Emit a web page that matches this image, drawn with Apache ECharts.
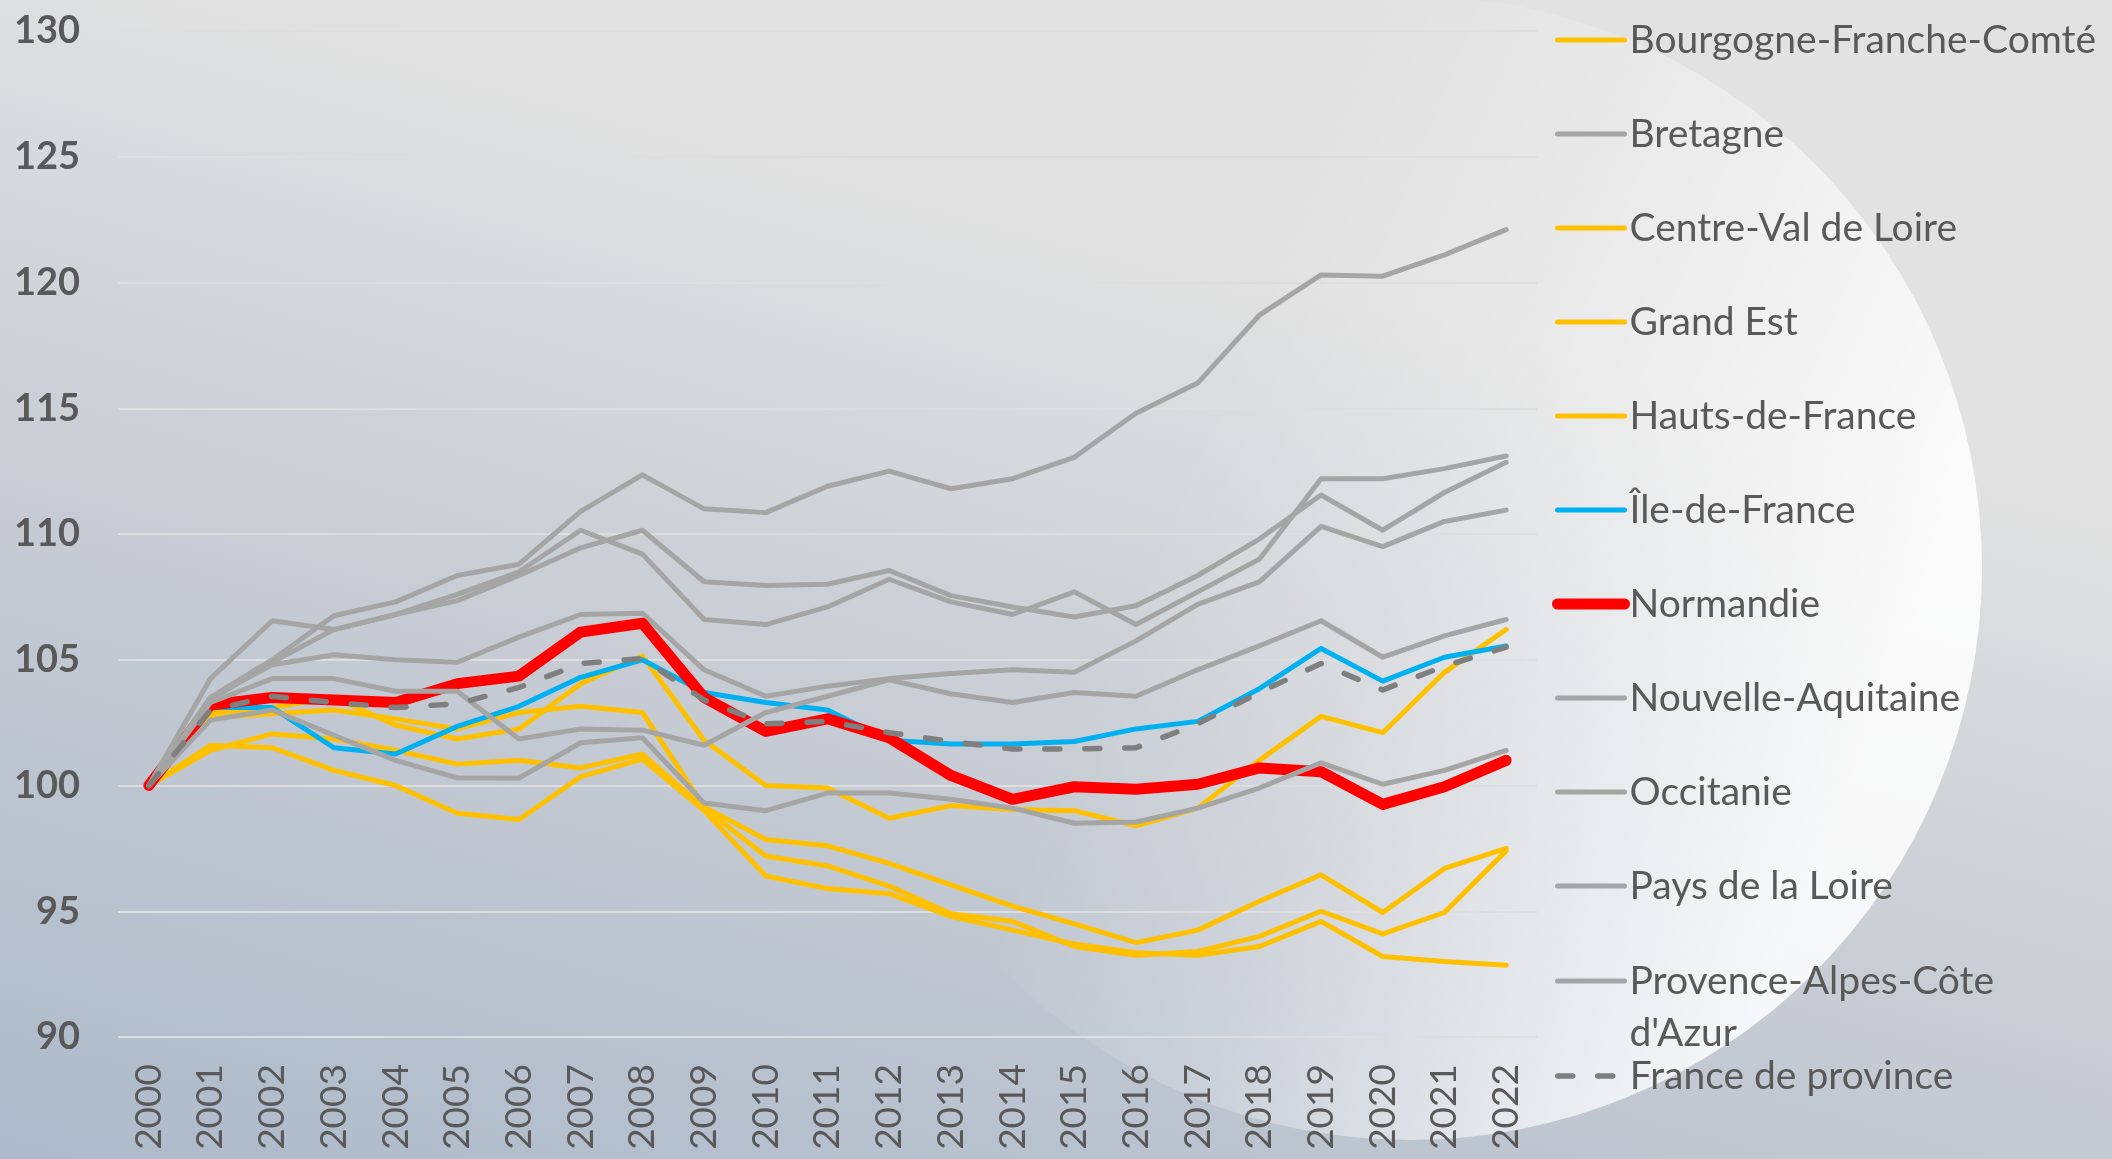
<!DOCTYPE html>
<html>
<head>
<meta charset="utf-8">
<script src="https://cdn.jsdelivr.net/npm/echarts@6/dist/echarts.min.js"></script>
<style>
  html, body { margin: 0; padding: 0; }
  #chart { width: 2112px; height: 1159px; }
</style>
</head>
<body>
<div id="chart"></div>
<script>
const years = ['2000', '2001', '2002', '2003', '2004', '2005', '2006', '2007', '2008', '2009', '2010', '2011',
  '2012', '2013', '2014', '2015', '2016', '2017', '2018', '2019', '2020', '2021', '2022']

const yTicks = [90, 95, 100, 105, 110, 115, 120, 125, 130]

// region not shown in the legend
const auvergneRhoneAlpes = [100, 103.5, 104.8, 105.2, 105.0, 104.9, 105.9, 106.8, 106.85, 104.6, 103.55, 103.95,
  104.25, 104.45, 104.6, 104.5, 105.75, 107.2, 108.1, 110.3, 109.5, 110.5, 110.95]
const bourgogneFC = [100, 102.7, 102.85, 103.0, 102.65, 102.25, 102.9, 103.15, 102.9, 99.15, 97.85, 97.6,
  96.9, 96.05, 95.2, 94.5, 93.75, 94.25, 95.4, 96.45, 94.95, 96.7, 97.5]
const bretagne = [100, 103.4, 104.9, 106.2, 106.8, 107.6, 108.5, 110.15, 109.2, 106.6, 106.4, 107.1,
  108.2, 107.3, 106.8, 107.7, 106.4, 107.7, 109.0, 112.2, 112.2, 112.6, 113.1]
const centreVdL = [100, 102.9, 103.1, 103.5, 102.4, 101.85, 102.25, 104.05, 105.15, 101.8, 100.0, 99.9,
  98.7, 99.2, 99.05, 99.0, 98.4, 99.1, 101.0, 102.75, 102.1, 104.5, 106.2]
const grandEst = [100, 101.6, 101.5, 100.6, 100.0, 98.9, 98.65, 100.35, 101.05, 99.0, 96.4, 95.9,
  95.7, 94.8, 94.25, 93.7, 93.35, 93.25, 93.6, 94.6, 93.2, 93.0, 92.85]
const hautsDeFrance = [100, 101.4, 102.05, 101.85, 101.4, 100.85, 101.0, 100.7, 101.25, 99.1, 97.2, 96.8,
  96.0, 94.9, 94.6, 93.6, 93.25, 93.4, 94.0, 95.0, 94.1, 94.95, 97.4]
const ileDeFrance = [100, 103.1, 103.1, 101.5, 101.25, 102.35, 103.15, 104.3, 105.0, 103.7, 103.3, 103.0,
  101.8, 101.65, 101.65, 101.75, 102.25, 102.55, 103.85, 105.45, 104.15, 105.1, 105.55]
const normandie = [100, 103.2, 103.5, 103.4, 103.3, 104.05, 104.35, 106.1, 106.45, 103.5, 102.15, 102.65,
  101.9, 100.4, 99.45, 99.95, 99.85, 100.05, 100.7, 100.55, 99.25, 99.95, 101.0]
const nouvelleAquitaine = [100, 103.3, 104.25, 104.25, 103.75, 103.75, 101.85, 102.25, 102.2, 101.6, 102.9, 103.55,
  104.2, 103.65, 103.3, 103.7, 103.55, 104.6, 105.55, 106.55, 105.1, 105.95, 106.6]
const occitanie = [100, 103.5, 105.0, 106.75, 107.3, 108.35, 108.8, 110.9, 112.35, 111.0, 110.85, 111.9,
  112.5, 111.8, 112.2, 113.05, 114.8, 116.0, 118.7, 120.3, 120.25, 121.1, 122.1]
const paysDeLaLoire = [100, 104.25, 106.55, 106.2, 106.8, 107.35, 108.35, 109.45, 110.15, 108.1, 107.95, 108.0,
  108.55, 107.55, 107.1, 106.7, 107.15, 108.35, 109.8, 111.55, 110.15, 111.65, 112.85]
const paca = [100, 102.6, 103.0, 102.0, 101.0, 100.3, 100.3, 101.7, 101.9, 99.3, 99.0, 99.7,
  99.7, 99.45, 99.1, 98.5, 98.55, 99.1, 99.9, 100.9, 100.05, 100.6, 101.4]
const franceProvince = [100, 103.0, 103.55, 103.3, 103.1, 103.25, 103.9, 104.85, 105.05, 103.4, 102.45, 102.55,
  102.1, 101.75, 101.45, 101.45, 101.5, 102.45, 103.7, 104.85, 103.8, 104.75, 105.5]

const YELLOW = '#ffc000'
const GRAY = '#a5a5a5'
const TEXT = '#595959'
const FONT = 'Lato, "Noto Sans", sans-serif'

const line = (name, data, color, width, type) => ({
  name,
  type: 'line',
  data,
  symbol: 'none',
  silent: true,
  lineStyle: { color, width: width || 5, type: type || 'solid', cap: 'round', join: 'round' },
  itemStyle: { color },
  emphasis: { disabled: true },
})

const series = [
  line('Auvergne-Rhône-Alpes', auvergneRhoneAlpes, GRAY),
  line('Bourgogne-Franche-Comté', bourgogneFC, YELLOW),
  line('Bretagne', bretagne, GRAY),
  line('Centre-Val de Loire', centreVdL, YELLOW),
  line('Grand Est', grandEst, YELLOW),
  line('Hauts-de-France', hautsDeFrance, YELLOW),
  line('Île-de-France', ileDeFrance, '#00b0f0'),
  line('Normandie', normandie, '#ff0000', 11),
  line('Nouvelle-Aquitaine', nouvelleAquitaine, GRAY),
  line('Occitanie', occitanie, GRAY),
  line('Pays de la Loire', paysDeLaLoire, GRAY),
  line("Provence-Alpes-Côte d'Azur", paca, GRAY),
  line('France de province', franceProvince, '#7f7f7f', 5.5, [15, 25]),
]

const legendText = { color: TEXT, fontSize: 39, fontFamily: FONT, lineHeight: 50 }
const legendBase = {
  orient: 'vertical',
  padding: 0,
  itemWidth: 67,
  itemHeight: 14,
  itemGap: 44,
  selectedMode: false,
  itemStyle: { opacity: 0 }, // hide the dot in the middle of the line icon
  lineStyle: { width: 'inherit' },
  textStyle: legendText,
}

const options = {
  animation: false,
  backgroundColor: 'transparent',
  graphic: [
    {
      type: 'rect',
      z: -10,
      silent: true,
      shape: { x: 0, y: 0, width: 2112, height: 1159 },
      style: {
        fill: new echarts.graphic.LinearGradient(0, 1, 0.15, 0, [
          { offset: 0, color: '#adbacb' },
          { offset: 0.45, color: '#c3c9d2' },
          { offset: 0.7, color: '#d0d3d8' },
          { offset: 1, color: '#e2e2e2' },
        ]),
      },
    },
    {
      // soft light disc behind the legend
      type: 'circle',
      z: -9,
      silent: true,
      shape: { cx: 1410, cy: 568, r: 572 },
      style: {
        fill: new echarts.graphic.LinearGradient(0, 0, 1, 0.4, [
          { offset: 0, color: 'rgba(255,255,255,0)' },
          { offset: 0.4, color: 'rgba(255,255,255,0)' },
          { offset: 0.6, color: 'rgba(255,255,255,0.2)' },
          { offset: 1, color: 'rgba(255,255,255,0.85)' },
        ]),
      },
    },
  ],
  grid: { left: 118, right: 575, top: 31, bottom: 122 },
  xAxis: {
    type: 'category',
    data: years,
    boundaryGap: true,
    axisLine: { show: false },
    axisTick: { show: false },
    axisLabel: { interval: 0, rotate: 90, margin: 27, color: TEXT, fontSize: 37, fontFamily: FONT },
  },
  yAxis: {
    type: 'value',
    min: yTicks[0],
    max: yTicks[yTicks.length - 1],
    interval: 5,
    axisLine: { show: false },
    axisTick: { show: false },
    axisLabel: { margin: 38, color: TEXT, fontSize: 38, fontWeight: 'bold', fontFamily: FONT },
    splitLine: { lineStyle: { color: '#dedede', width: 2 } },
  },
  legend: [
    {
      ...legendBase,
      left: 1552,
      top: 15,
      data: series.slice(1, 11).map(s => s.name),
    },
    {
      ...legendBase,
      left: 1555,
      top: 903,
      data: ["Provence-Alpes-Côte d'Azur"],
      formatter: () => "\nProvence-Alpes-Côte\nd'Azur",
      textStyle: { ...legendText, lineHeight: 52 },
    },
    {
      ...legendBase,
      left: 1555,
      top: 1051,
      data: ['France de province'],
    },
  ],
  series,
}

const chart = echarts.init(document.getElementById('chart'))
chart.setOption(options)
window.onresize = function () {
  chart.resize()
}
</script>
</body>
</html>
